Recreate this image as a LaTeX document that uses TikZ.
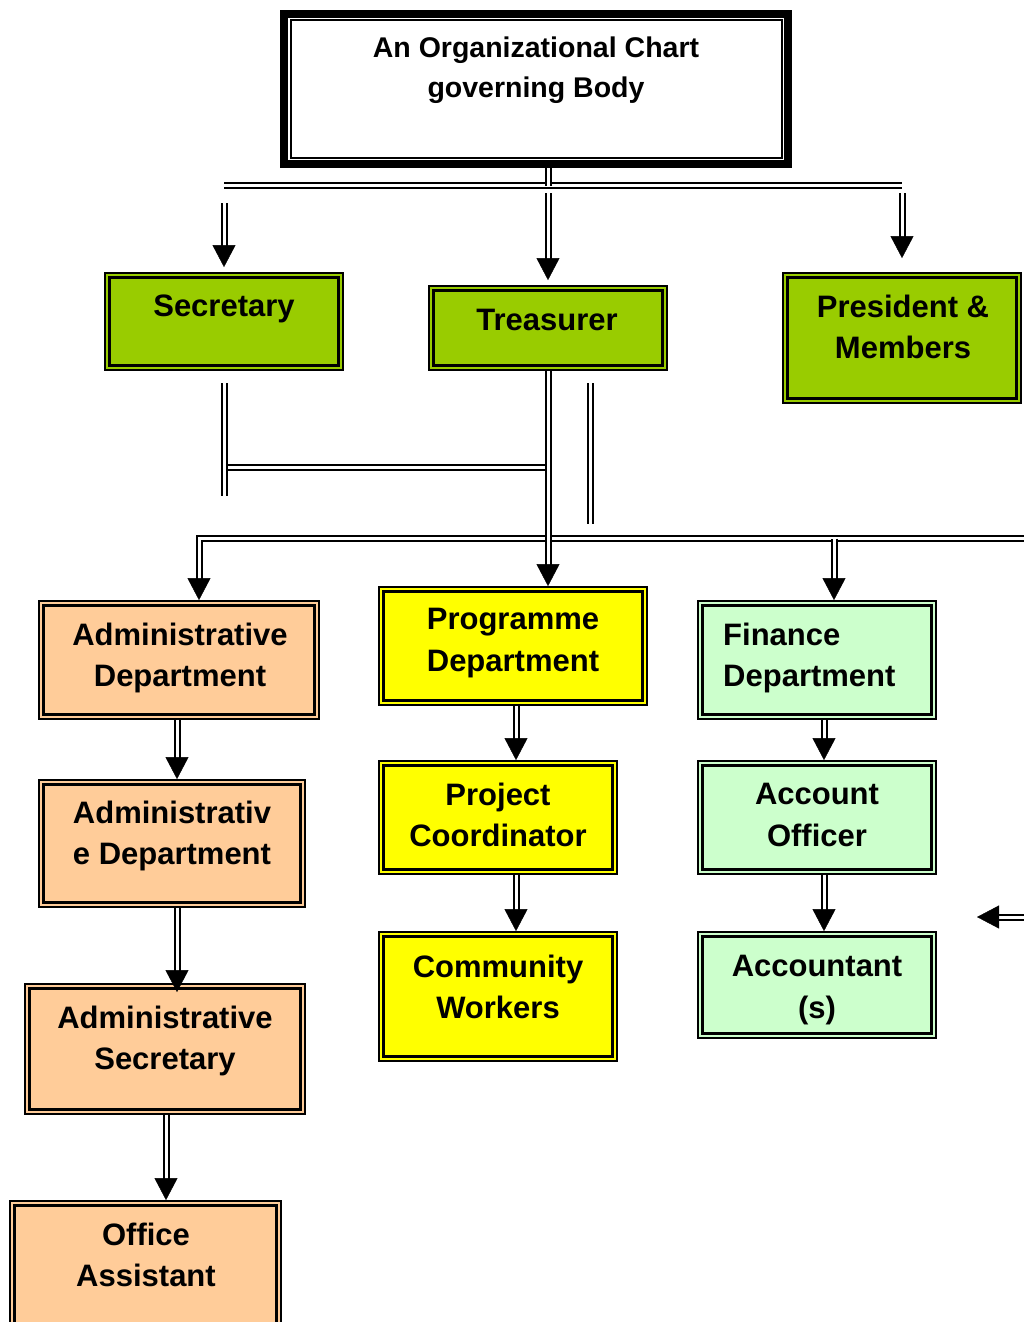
\documentclass[tikz,border=0pt]{standalone}
\usepackage{fontspec}
\setmainfont{Liberation Sans}
\usetikzlibrary{arrows.meta,calc}
\definecolor{cgreen}{HTML}{99CC00}
\definecolor{cpeach}{HTML}{FFCC99}
\definecolor{cyellow}{HTML}{FFFF00}
\definecolor{cmint}{HTML}{CCFFCC}
\tikzset{
  orgbox/.style={draw=black, line width=1.8pt, fill=#1, inner sep=0pt,
    path picture={\draw[line width=2.4pt]
      ([xshift=4.6pt,yshift=-4.6pt]path picture bounding box.north west) rectangle
      ([xshift=-4.6pt,yshift=4.6pt]path picture bounding box.south east);}},
  topbox/.style={draw=black, line width=8pt, fill=white, inner sep=0pt,
    path picture={\draw[line width=2pt]
      ([xshift=6.5pt,yshift=-6.5pt]path picture bounding box.north west) rectangle
      ([xshift=-6.5pt,yshift=6.5pt]path picture bounding box.south east);}},
  lbl/.style={font=\bfseries\fontsize{31}{41.5}\selectfont, align=center, inner sep=0pt},
  ttl/.style={font=\bfseries\fontsize{28.5}{40}\selectfont, align=center, inner sep=0pt},
  dbl/.style={draw=black, line width=2pt, double=white, double distance=3pt, line join=miter},
  tipln/.style={draw=white, line width=0.4pt, -{Triangle[length=22pt,width=23pt,color=black,fill=black]}}
}
\newcommand\obox[6]{\node[orgbox=#2, minimum width=#5-#3-2, minimum height=#6-#4-2] (#1) at ({(#3+#5)/2},{(#4+#6)/2}) {};}
\newcommand\darr[2]{\draw[dbl, shorten >=20pt] #1 -- #2; \draw[tipln] #1 -- #2;}
\begin{document}
\begin{tikzpicture}[x=1pt,y=-1pt]
\useasboundingbox (0,0) rectangle (1024,1322);
% top box
\node[topbox, minimum width=504, minimum height=150] (top) at (536,89) {};
\node[ttl] (top-t) at (536,70) {An Organizational Chart\\governing Body};
% boxes
\obox{sec}{cgreen}{104}{272}{344}{371}
\obox{tre}{cgreen}{428}{285}{668}{371}
\obox{pres}{cgreen}{782}{272}{1022}{404}
\obox{adm1}{cpeach}{38}{600}{320}{720}
\obox{prog}{cyellow}{378}{586}{648}{706}
\obox{fin}{cmint}{697}{600}{937}{720}
\obox{adm2}{cpeach}{38}{779}{306}{908}
\obox{proj}{cyellow}{378}{760}{618}{875}
\obox{acc}{cmint}{697}{760}{937}{875}
\obox{admsec}{cpeach}{24}{983}{306}{1115}
\obox{comm}{cyellow}{378}{931}{618}{1062}
\obox{accs}{cmint}{697}{931}{937}{1039}
\obox{office}{cpeach}{9}{1200}{282}{1340}
% labels
\node[lbl] (sec-t) at (224,309) {Secretary};
\node[lbl] (tre-t) at (547,320) {Treasurer};
\node[lbl] (pres-t) at (903,327) {President \&\\Members};
\node[lbl] (adm1-t) at (180,658) {Administrative\\Department};
\node[lbl] (prog-t) at (513,643) {Programme\\Department};
\node[lbl, align=left, anchor=west] (fin-t) at (723,658) {Finance\\Department};
\node[lbl] (adm2-t) at (172,836) {Administrativ\\e Department};
\node[lbl] (proj-t) at (498,815) {Project\\Coordinator};
\node[lbl] (acc-t) at (817,815) {Account\\Officer};
\node[lbl] (admsec-t) at (165,1041) {Administrative\\Secretary};
\node[lbl] (comm-t) at (498,987) {Community\\Workers};
\node[lbl] (accs-t) at (817,990) {Accountant\\(s)};
\node[lbl] (office-t) at (146,1255) {Office\\Assistant};
% free-end coordinates
\coordinate (hubL) at (224,185.5);
\coordinate (hubR) at (902,185.5);
\coordinate (hubC) at (548,185.5);
\coordinate (sA) at (224,203);
\coordinate (tA) at (548,193);
\coordinate (pA) at (902,193);
\coordinate (secV1) at (224,383);
\coordinate (secV2) at (224,496);
\coordinate (secH) at (224,467);
\coordinate (treH) at (548,467);
\coordinate (midV1) at (590.5,383);
\coordinate (midV2) at (590.5,524);
\coordinate (longR) at (1024,538.5);
\coordinate (longL) at (199,538.5);
\coordinate (finA) at (834,538.5);
\coordinate (rArr1) at (1024,917);
\coordinate (rArr2) at (977,917);
% top connectors
\draw[dbl] (hubL) -- (hubR);
\draw[dbl] (top.south -| tre.north) -- (hubC);
\darr{(sA)}{($(sec.north)+(0,-5)$)}
\darr{(tA)}{($(tre.north)+(0,-5)$)}
\darr{(pA)}{($(pres.north)+(0,-14)$)}
% middle connectors
\draw[dbl] (secH) -- (treH);
\draw[dbl] (secV1) -- (secV2);
\draw[dbl] (midV1) -- (midV2);
\draw[dbl, shorten >=20pt] (longR) -- (longL) -- ($(adm1.north)+(20,0)$);
\draw[tipln] (longL) -- ($(adm1.north)+(20,0)$);
\darr{(finA)}{($(fin.north)+(17,0)$)}
\darr{(tre.south)}{($(prog.north)+(35,0)$)}
% columns
\darr{($(adm1.south)+(-2,0)$)}{($(adm2.north)+(5,0)$)}
\darr{($(adm2.south)+(5,0)$)}{($(admsec.north)+(12,9)$)}
\darr{($(admsec.south)+(1,0)$)}{($(office.north)+(20.5,0)$)}
\darr{($(prog.south)+(3,0)$)}{($(proj.north)+(18,0)$)}
\darr{($(proj.south)+(18,0)$)}{($(comm.north)+(18,0)$)}
\darr{($(fin.south)+(7,0)$)}{($(acc.north)+(7,0)$)}
\darr{($(acc.south)+(7,0)$)}{($(accs.north)+(7,0)$)}
\darr{(rArr1)}{(rArr2)}
\end{tikzpicture}
\end{document}
